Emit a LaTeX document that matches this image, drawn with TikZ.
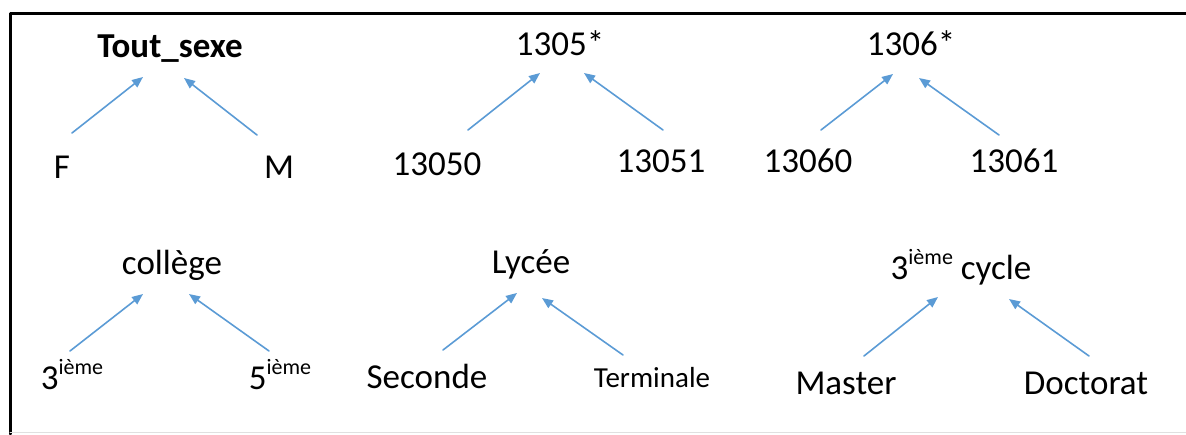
\documentclass[tikz,border=0pt]{standalone}
\usepackage{fontspec}
\setmainfont{Carlito}
\usetikzlibrary{arrows.meta}
\definecolor{lienbleu}{RGB}{91,155,213}
\newcommand{\ieme}{\raisebox{0.42em}{\fontsize{22}{22}\selectfont ième}}
\begin{document}
\begin{tikzpicture}[x=1pt,y=-1pt,line join=round,line cap=round,
	mot/.style={font=\fontsize{35}{40}\selectfont,inner sep=0pt,anchor=base},
	fleche/.style={draw=lienbleu,line width=1.6pt,-{Triangle[length=11pt,width=9pt]}}]
			\useasboundingbox (0,0) rectangle (1186,434);
			\draw[line width=3pt] (10,434)--(10,13)--(1186,13);
			\draw[black!12,line width=1pt] (10,432)--(1186,432);
			\node[mot,font=\fontsize{35}{40}\selectfont\bfseries] (TS) at (170,57) {Tout\_sexe};
			\node[mot] (F) at (62,178) {F};
			\node[mot] (M) at (279,178) {M};
			\node[mot] (P1305) at (560,55) {1305*};
			\node[mot] (E13050) at (437,175) {13050};
			\node[mot] (E13051) at (661,172) {13051};
			\node[mot] (P1306) at (911,55) {1306*};
			\node[mot] (E13060) at (808,172) {13060};
			\node[mot] (E13061) at (1014,172) {13061};
			\node[mot] (COL) at (172,274) {collège};
			\node[mot] (TROIS) at (72,389) {3\ieme};
			\node[mot] (CINQ) at (280,389) {5\ieme};
			\node[mot] (LYC) at (531,273) {Lycée};
			\node[mot] (SEC) at (427,388) {Seconde};
			\node[mot,font=\fontsize{29}{34}\selectfont] (TER) at (652,387) {Terminale};
			\node[mot] (CYC) at (961,279) {3\ieme{} cycle};
			\node[mot] (MAS) at (846,394) {Master};
			\node[mot] (DOC) at (1086,394) {Doctorat};
			\coordinate (F1) at (72,133);
			\coordinate (TS1) at (143,77);
			\coordinate (M1) at (257,135);
			\coordinate (TS2) at (184,78);
			\coordinate (E1) at (468,130);
			\coordinate (P1) at (540,73);
			\coordinate (E2) at (663,130);
			\coordinate (P2) at (584,73);
			\coordinate (E3) at (821,130);
			\coordinate (P3) at (893,74);
			\coordinate (E4) at (999,135);
			\coordinate (P4) at (919,78);
			\coordinate (T1) at (70,351);
			\coordinate (C1) at (143,294);
			\coordinate (T2) at (269,351);
			\coordinate (C2) at (189,294);
			\coordinate (S1) at (443,350);
			\coordinate (L1) at (517,293);
			\coordinate (S2) at (623,355);
			\coordinate (L2) at (542,298);
			\coordinate (D1) at (864,356);
			\coordinate (Y1) at (938,297);
			\coordinate (D2) at (1089,356);
			\coordinate (Y2) at (1009,299);
			\draw[fleche] (F1)--(TS1);
			\draw[fleche] (M1)--(TS2);
			\draw[fleche] (E1)--(P1);
			\draw[fleche] (E2)--(P2);
			\draw[fleche] (E3)--(P3);
			\draw[fleche] (E4)--(P4);
			\draw[fleche] (T1)--(C1);
			\draw[fleche] (T2)--(C2);
			\draw[fleche] (S1)--(L1);
			\draw[fleche] (S2)--(L2);
			\draw[fleche] (D1)--(Y1);
			\draw[fleche] (D2)--(Y2);
		\end{tikzpicture}
\end{document}
